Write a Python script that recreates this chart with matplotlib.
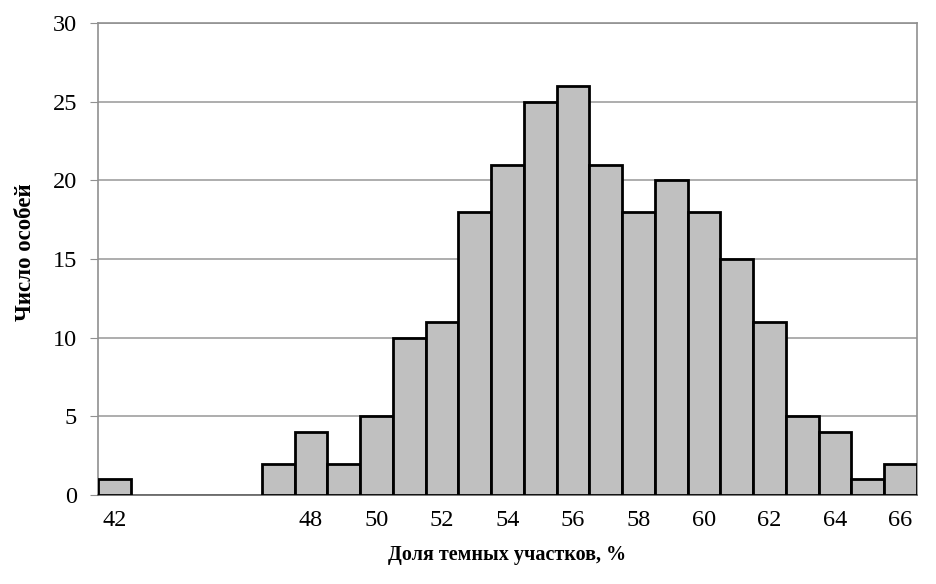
import matplotlib.pyplot as plt

# Данные гистограммы
bins = [42, 43, 44, 45, 46, 47, 48, 49, 50, 51, 52, 53, 54,
        55, 56, 57, 58, 59, 60, 61, 62, 63, 64, 65, 66]
counts = [1, 0, 0, 0, 0, 2, 4, 2, 5, 10, 11, 18, 21,
          25, 26, 21, 18, 20, 18, 15, 11, 5, 4, 1, 2]
xticks = [42, 48, 50, 52, 54, 56, 58, 60, 62, 64, 66]
yticks = [0, 5, 10, 15, 20, 25, 30]

plt.rcParams['font.family'] = ['Liberation Serif', 'DejaVu Serif']

fig = plt.figure(figsize=(9.37, 5.84), dpi=100)
ax = fig.add_axes([0.1046, 0.1524, 0.874, 0.8082])

# у пустых интервалов контур не рисуем
lw = [2 if c > 0 else 0 for c in counts]
ax.bar(bins, counts, width=1.0, color='#c0c0c0', edgecolor='black',
       linewidth=lw, zorder=3)

ax.set_xlim(41.5, 66.5)
ax.set_ylim(0, 30)
ax.set_xticks(xticks)
ax.set_yticks(yticks)
ax.grid(axis='y', color='#a0a0a0', linewidth=1.2, zorder=0)

for s in ax.spines.values():
    s.set_color('#909090')
    s.set_linewidth(1.2)
ax.spines['bottom'].set_color('#606060')

ax.tick_params(axis='y', length=6, color='#909090', labelsize=17.5, pad=9)
ax.tick_params(axis='x', length=0, labelsize=17.5, pad=11)

ax.set_xlabel('Доля темных участков, %', fontsize=14.5, fontweight='bold', labelpad=10)
ax.set_ylabel('Число особей', fontsize=16.5, fontweight='bold')
ax.yaxis.set_label_coords(-0.076, 0.515)

plt.savefig('out.png', dpi=100)
